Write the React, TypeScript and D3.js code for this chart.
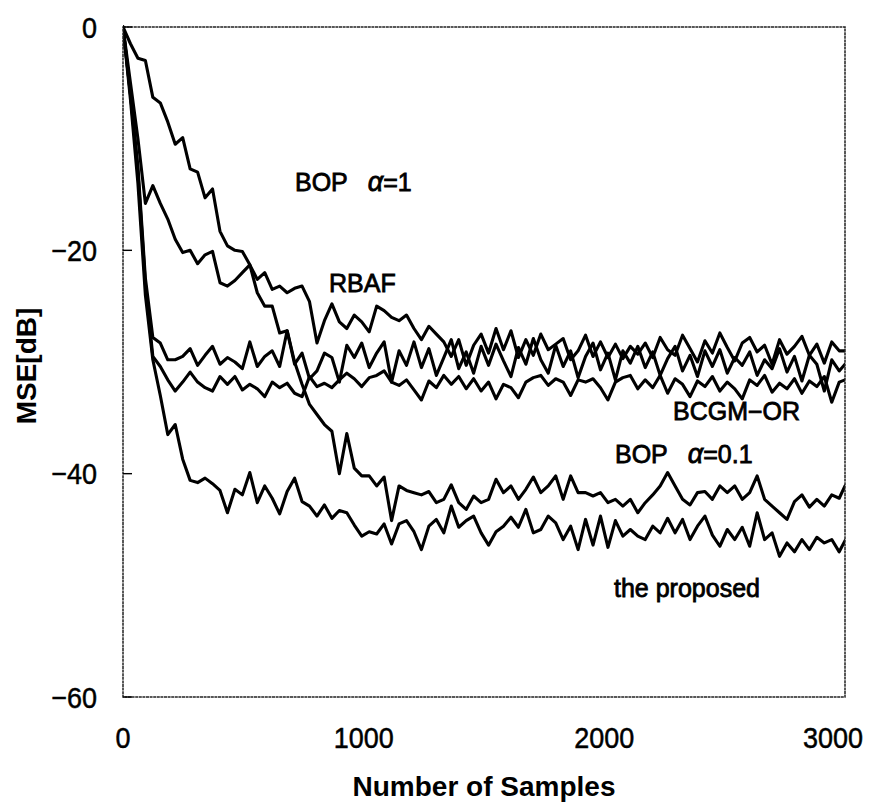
import React from "react";
import * as d3 from "d3";

// Sample grid: every 31 samples, closing at 3000
const SAMPLE_STEP = 31;
const SAMPLES: number[] = d3.range(97).map((i) => i * SAMPLE_STEP).concat([3000]);

// MSE [dB] curves
const bopAlpha1: number[] = [
  0, -1.5, -2.8, -3.0, -6.3, -6.8, -8.5, -10.5, -9.9, -12.7,
  -13.0, -15.3, -14.5, -18.3, -19.6, -20.0, -20.1, -21.3, -22.6, -22.0,
  -23.5, -23.2, -23.8, -23.4, -23.2, -24.6, -28.3, -26.3, -24.8, -26.4,
  -27.0, -25.8, -26.4, -27.3, -25.0, -25.4, -26.0, -26.3, -25.8, -27.0,
  -28.0, -26.8, -27.5, -28.2, -29.5, -28.0, -30.3, -28.5, -27.5, -29.2,
  -27.0, -28.9, -27.2, -29.6, -28.0, -29.4, -27.5, -28.9, -28.4, -27.9,
  -29.8, -29.0, -27.6, -29.5, -28.2, -29.6, -28.4, -29.7, -28.6, -29.3,
  -28.3, -29.6, -27.8, -28.9, -29.4, -27.6, -28.8, -30.0, -28.1, -29.2,
  -27.4, -28.7, -29.9, -28.3, -27.8, -29.1, -28.5, -30.2, -28.0, -29.3,
  -28.6, -27.7, -29.4, -28.4, -30.1, -28.2, -29.0, -29.0,
];

const rbaf: number[] = [
  0, -6.0, -12.5, -22.5, -27.8, -28.3, -29.8, -29.8, -29.5, -28.8,
  -30.3, -29.4, -28.6, -30.2, -29.6, -30.0, -30.6, -28.2, -30.4, -29.5,
  -29.0, -30.4, -27.2, -30.2, -29.2, -31.5, -30.8, -29.2, -29.6, -31.8,
  -28.5, -29.6, -28.3, -30.5, -29.2, -28.2, -31.8, -29.0, -30.3, -28.2,
  -30.5, -28.8, -31.2, -29.6, -28.0, -30.6, -29.1, -31.0, -28.6, -30.3,
  -28.4, -29.9, -31.3, -28.7, -30.2, -27.9, -29.8, -31.0, -28.5, -30.4,
  -29.0, -31.4, -29.5, -28.3, -30.7, -29.2, -31.6, -29.0, -30.1, -28.6,
  -30.5, -29.1, -31.2, -29.7, -28.6, -30.8, -29.4, -31.3, -29.0, -30.4,
  -28.9, -31.0, -29.6, -30.3, -29.1, -31.2, -29.8, -30.6, -28.8, -30.9,
  -29.5, -31.7, -29.4, -30.2, -32.6, -29.8, -30.8, -30.2,
];

const bcgmOr: number[] = [
  0, -6.0, -13.0, -23.0, -29.5, -30.4, -31.6, -32.6, -31.8, -30.9,
  -31.8, -32.3, -32.6, -31.3, -32.0, -31.3, -32.5, -32.0, -32.4, -33.1,
  -31.8, -32.3, -31.9, -32.8, -33.1, -31.3, -32.2, -31.9, -32.3, -31.6,
  -31.0, -31.5, -32.2, -31.4, -31.2, -30.8, -31.8, -32.1, -31.6, -32.5,
  -33.4, -31.7, -32.3, -31.2, -32.0, -31.3, -32.4, -31.5, -32.6, -31.8,
  -33.3, -32.0, -32.3, -33.2, -31.8, -31.4, -31.2, -32.1, -31.5, -31.8,
  -33.0, -31.6, -31.8, -31.5, -32.3, -33.4, -31.8, -31.4, -31.2, -32.4,
  -31.6, -32.3, -31.2, -32.8, -31.5, -32.0, -33.1, -31.7, -32.2, -31.3,
  -32.6, -31.8, -32.4, -33.3, -31.6, -32.1, -31.2, -32.7, -31.9, -32.4,
  -31.5, -32.8, -31.7, -32.2, -31.3, -33.6, -31.8, -31.6,
];

const bopAlpha01: number[] = [
  0, -5.0, -10.0, -15.8, -14.2, -15.8, -17.2, -19.0, -20.2, -20.0,
  -21.2, -20.4, -20.1, -22.9, -23.2, -22.7, -22.0, -21.3, -23.8, -25.0,
  -25.0, -27.4, -27.2, -30.0, -32.0, -33.8, -34.7, -35.6, -36.2, -40.0,
  -36.4, -39.5, -40.2, -40.2, -41.1, -40.3, -44.2, -41.1, -41.5, -41.7,
  -41.9, -41.6, -42.6, -42.3, -41.0, -42.6, -43.2, -42.0, -42.6, -42.3,
  -40.5, -41.7, -41.1, -42.3, -41.4, -40.3, -41.7, -41.1, -40.2, -42.3,
  -40.2, -41.7, -41.7, -42.0, -41.7, -42.6, -42.3, -42.9, -42.3, -43.5,
  -42.6, -41.9, -41.1, -39.9, -41.1, -42.3, -42.8, -41.7, -41.6, -42.3,
  -41.1, -41.7, -41.1, -42.3, -41.7, -40.2, -42.3, -42.9, -43.5, -44.1,
  -42.5, -41.9, -43.0, -42.3, -42.9, -41.9, -42.2, -41.1,
];

const proposed: number[] = [
  0, -6.5, -14.0, -24.0, -29.8, -33.0, -36.5, -35.6, -38.7, -40.6,
  -40.8, -40.4, -40.9, -41.5, -43.5, -41.4, -41.9, -39.9, -42.6, -41.1,
  -42.2, -43.6, -41.6, -40.4, -42.5, -42.9, -43.8, -42.8, -44.0, -43.3,
  -43.5, -44.6, -45.6, -45.2, -45.4, -44.5, -46.3, -44.5, -44.2, -45.2,
  -46.8, -44.7, -44.1, -45.3, -42.9, -44.8, -44.2, -43.8, -45.3, -46.4,
  -45.2, -44.7, -43.9, -44.8, -43.2, -45.3, -45.0, -43.8, -44.4, -45.9,
  -44.7, -46.8, -44.1, -46.4, -43.8, -46.6, -44.2, -45.6, -45.0, -45.6,
  -45.9, -44.7, -45.3, -44.0, -45.3, -44.1, -45.9, -44.7, -43.8, -45.5,
  -46.5, -45.0, -45.9, -44.8, -46.5, -43.5, -45.9, -45.3, -47.4, -46.2,
  -47.0, -45.9, -46.8, -45.7, -46.2, -45.9, -47.0, -46.0,
];

const SERIES: number[][] = [bopAlpha1, rbaf, bcgmOr, bopAlpha01, proposed];

const X_TICKS: number[] = [0, 1000, 2000, 3000];
const Y_TICKS: number[] = [0, -20, -40, -60];
const X_TITLE = "Number of Samples";
const Y_TITLE = "MSE[dB]";

const W = 878;
const H = 802;
const M = { left: 123, right: 845, top: 27, bottom: 697 };

export default function App() {
  const x = d3.scaleLinear().domain([0, 3000]).range([M.left, M.right]);
  const y = d3.scaleLinear().domain([-60, 0]).range([M.bottom, M.top]);
  const line = d3
    .line<number>()
    .x((_, i) => x(SAMPLES[i]))
    .y((d) => y(d))
    .curve(d3.curveLinear);

  const font = "'Liberation Sans', Arial, Helvetica, sans-serif";
  const fmt = (v: number) => (v < 0 ? "\u2212" + Math.abs(v) : String(v));

  return (
    <svg
      width={W}
      height={H}
      viewBox={`0 0 ${W} ${H}`}
      style={{ position: "absolute", left: 0, top: 0, background: "#fff" }}
      fontFamily={font}
    >
      <rect x={0} y={0} width={W} height={H} fill="#fff" />
      <defs>
        <clipPath id="plot">
          <rect x={M.left} y={M.top - 2} width={M.right - M.left} height={M.bottom - M.top + 2} />
        </clipPath>
      </defs>

      {/* curves */}
      <g clipPath="url(#plot)">
        {SERIES.map((s, k) => (
          <path
            key={k}
            d={line(s) || ""}
            fill="none"
            stroke="#000"
            strokeWidth={3.1}
            strokeLinejoin="round"
            strokeLinecap="round"
          />
        ))}
      </g>

      {/* frame */}
      <rect
        x={M.left}
        y={M.top}
        width={M.right - M.left}
        height={M.bottom - M.top}
        fill="none"
        stroke="#222"
        strokeWidth={1.5}
        strokeDasharray="3 0.6"
      />

      {/* y ticks */}
      {Y_TICKS.map((t) => (
        <g key={t}>
          <line x1={M.left} x2={M.left + 9} y1={y(t)} y2={y(t)} stroke="#000" strokeWidth={1.4} />
          <text
            transform={`translate(97,${y(t)}) scale(0.9,1)`}
            dy="0.36em"
            textAnchor="end"
            fontSize={30}
            fill="#000"
            stroke="#000"
            strokeWidth={0.5}
          >
            {fmt(t)}
          </text>
        </g>
      ))}

      {/* x tick labels */}
      {X_TICKS.map((t, i) => {
        const last = i === X_TICKS.length - 1;
        const px = last ? x(t) + 18 : x(t);
        return (
          <text
            key={t}
            transform={`translate(${px},748) scale(0.9,1)`}
            textAnchor={last ? "end" : "middle"}
            fontSize={30}
            fill="#000"
            stroke="#000"
            strokeWidth={0.5}
          >
            {fmt(t)}
          </text>
        );
      })}

      {/* axis titles */}
      <text x={484} y={796} textAnchor="middle" fontSize={28} fontWeight="bold" fill="#000">
        {X_TITLE}
      </text>
      <text
        transform={`translate(36,366) rotate(-90)`}
        textAnchor="middle"
        fontSize={28}
        fontWeight="bold"
        fill="#000"
      >
        {Y_TITLE}
      </text>

      {/* curve labels */}
      <g fontSize={25} fill="#000" stroke="#000" strokeWidth={0.8}>
        <text x={295} y={191}>
          BOP
          <tspan dx={20} fontStyle="italic" fontSize={27}>α</tspan>
          <tspan>=1</tspan>
        </text>
        <text x={329} y={292}>RBAF</text>
        <text x={673} y={420}>BCGM−OR</text>
        <text x={615} y={463}>
          BOP
          <tspan dx={20} fontStyle="italic" fontSize={27}>α</tspan>
          <tspan>=0.1</tspan>
        </text>
        <text x={614} y={597}>the proposed</text>
      </g>
    </svg>
  );
}
